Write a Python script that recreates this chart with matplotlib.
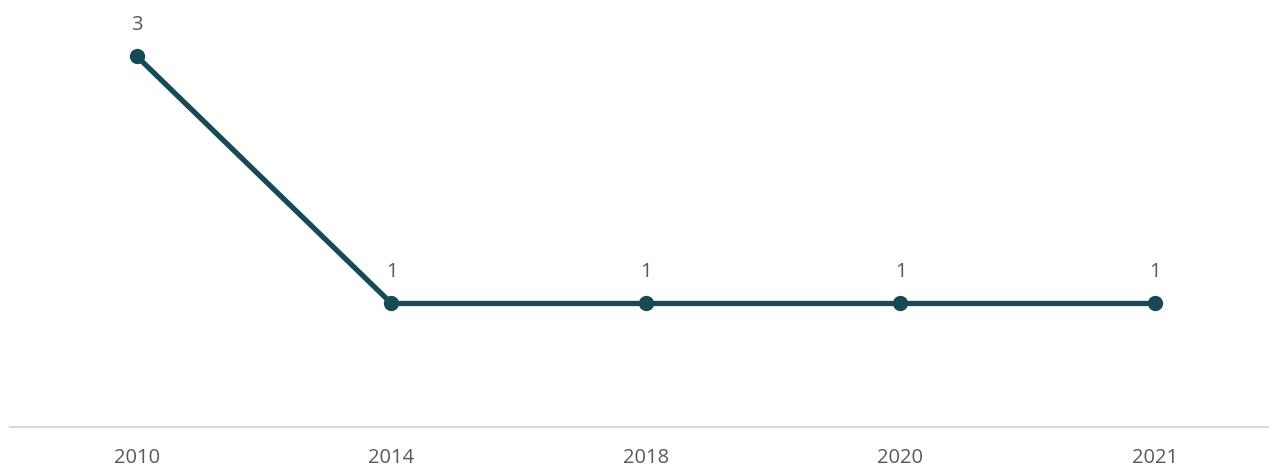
import matplotlib
matplotlib.use("Agg")
import matplotlib.pyplot as plt

years = ["2010", "2014", "2018", "2020", "2021"]
values = [3, 1, 1, 1, 1]

line_color = "#164a57"
text_color = "#595959"

plt.rcParams['font.family'] = ['Open Sans', 'DejaVu Sans']

fig = plt.figure(figsize=(12.69, 4.66), dpi=100)
ax = fig.add_axes([10/1269, 39/466, 1259/1269, 427/466])
x = list(range(len(years)))
ax.plot(x, values, color=line_color, linewidth=3.8, marker='o', markersize=10,
        solid_capstyle='round', zorder=3)
for xi, v in zip(x, values):
    ax.annotate(str(v), (xi, v), xytext=(0, 23), textcoords='offset points',
                ha='center', va='center', fontsize=14.5, color=text_color)

ax.set_xlim(-0.499, 4.448)
ax.set_ylim(0, 3.457)
ax.set_xticks(x)
ax.set_xticklabels(years, fontsize=14.5, color=text_color)
ax.tick_params(axis='x', length=0, pad=15)
ax.set_yticks([])
for s in ['top', 'right', 'left']:
    ax.spines[s].set_visible(False)
ax.spines['bottom'].set_color('#d9d9d9')
ax.spines['bottom'].set_linewidth(1.5)

fig.savefig("out.png", dpi=100)
